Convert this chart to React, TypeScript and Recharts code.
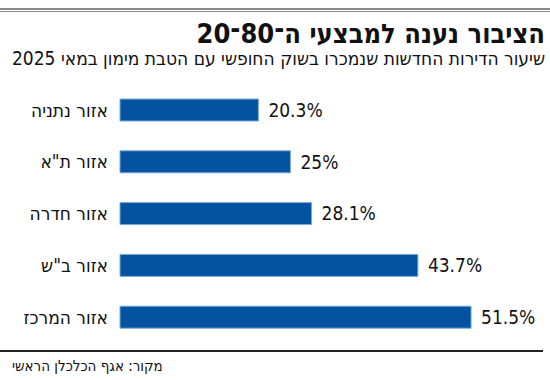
import { Bar, BarChart, LabelList, XAxis, YAxis } from 'recharts';

const regions = ['אזור נתניה', 'אזור ת"א', 'אזור חדרה', 'אזור ב"ש', 'אזור המרכז'];
const shares = [20.3, 25, 28.1, 43.7, 51.5];

const TITLE = 'הציבור נענה למבצעי ה־80־20';
const SUBTITLE = 'שיעור הדירות החדשות שנמכרו בשוק החופשי עם הטבת מימון במאי 2025';
const SOURCE = 'מקור: אגף הכלכלן הראשי';

const FONT = '"Liberation Sans Narrow", "DejaVu Sans Condensed", "Liberation Sans", sans-serif';

const data = regions.map((name, i) => ({ name, value: shares[i] }));

export default function App() {
  return (
    <div
      style={{
        position: 'fixed',
        left: 0,
        top: 0,
        width: 550,
        height: 380,
        background: '#fff',
        fontFamily: FONT,
        overflow: 'hidden',
      }}
    >
      <div style={{ position: 'absolute', left: 0, right: 0, top: 8, height: 2, background: '#8a8a8a' }} />
      <div style={{ position: 'absolute', left: 0, right: 0, top: 11, height: 1, background: '#8a8a8a' }} />
      <div
        dir="rtl"
        style={{
          position: 'absolute',
          right: 5,
          top: 18,
          fontSize: 27,
          fontWeight: 700,
          color: '#111',
          whiteSpace: 'nowrap',
        }}
      >
        {TITLE}
      </div>
      <div
        dir="rtl"
        style={{
          position: 'absolute',
          right: 5,
          top: 47,
          fontSize: 19,
          color: '#111',
          whiteSpace: 'nowrap',
        }}
      >
        {SUBTITLE}
      </div>

      <BarChart
        width={550}
        height={380}
        data={data}
        layout="vertical"
        margin={{ top: 84, right: 21, bottom: 37, left: 0 }}
      >
        <XAxis type="number" domain={[0, 60]} hide />
        <YAxis
          type="category"
          dataKey="name"
          width={120}
          axisLine={false}
          tickLine={false}
          tickMargin={6}
          tick={{ fill: '#111', fontSize: 19, fontFamily: FONT }}
        />
        <Bar dataKey="value" barSize={22} fill="#0353a0" stroke="#7ea9d8" strokeWidth={1} isAnimationActive={false}>
          <LabelList
            dataKey="value"
            position="right"
            offset={10}
            formatter={(v: number) => `${v}%`}
            style={{ fill: '#111', fontSize: 19, fontFamily: FONT }}
          />
        </Bar>
      </BarChart>

      <div style={{ position: 'absolute', left: 0, width: 543, top: 350, height: 2, background: '#222' }} />
      <div
        dir="rtl"
        style={{
          position: 'absolute',
          left: 12,
          top: 357,
          fontSize: 15,
          color: '#111',
          whiteSpace: 'nowrap',
        }}
      >
        {SOURCE}
      </div>
    </div>
  );
}
